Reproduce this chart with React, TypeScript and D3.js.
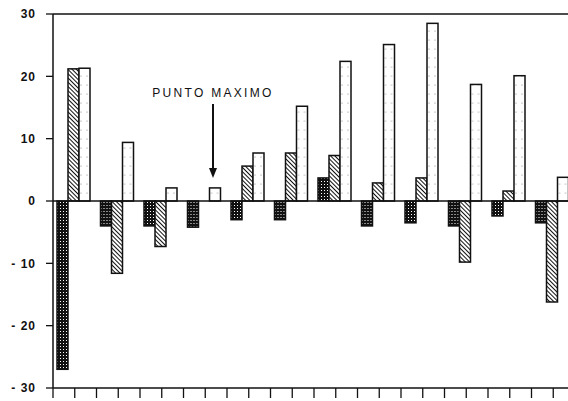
import React from "react";
import * as d3 from "d3";

// chart values
const groups = ["1", "2", "3", "4", "5", "6", "7", "8", "9", "10", "11", "12"];
const seriesDark = [-27, -4, -4, -4.2, -3, -3, 3.7, -4, -3.5, -4, -2.4, -3.5];
const seriesHatch = [21.2, -11.6, -7.3, 0, 5.6, 7.7, 7.3, 2.9, 3.7, -9.8, 1.6, -16.2];
const seriesLight = [21.3, 9.4, 2.1, 2.1, 7.7, 15.2, 22.4, 25.1, 28.5, 18.7, 20.1, 3.8];
const yTicks = [30, 20, 10, 0, -10, -20, -30];
const seriesKeys = ["dark", "hatch", "light"];
const annotation = "PUNTO MAXIMO";

const W = 568;
const H = 401;
const left = 53;
const top = 14;
const bottom = 388;

const y = d3.scaleLinear().domain([-30, 30]).range([bottom, top]);
const x0 = d3.scaleBand().domain(groups).range([left, left + 12 * 43.5]).padding(0);
const x1 = d3.scaleBand().domain(seriesKeys).range([4, 37]).padding(0);
const xt = d3.scaleLinear().domain([0, 12]).range([left, left + 12 * 43.5]);

const fills = { dark: "url(#pDark)", hatch: "url(#pHatch)", light: "url(#pLight)" };
const values = { dark: seriesDark, hatch: seriesHatch, light: seriesLight };

const fmt = (d) => (d < 0 ? "- " + Math.abs(d) : String(d));

export default function App() {
  const font = "'Liberation Sans', Arial, sans-serif";
  return (
    <svg
      width={W}
      height={H}
      style={{ position: "absolute", left: 0, top: 0, background: "#fff" }}
    >
      <defs>
        <pattern id="pDark" width="3" height="3" patternUnits="userSpaceOnUse">
          <rect width="3" height="3" fill="#111" />
          <rect x="1" y="1" width="1" height="1" fill="#fff" />
        </pattern>
        <pattern
          id="pHatch"
          width="3"
          height="3"
          patternUnits="userSpaceOnUse"
          patternTransform="rotate(-45)"
        >
          <rect width="3" height="3" fill="#fff" />
          <line x1="0" y1="0" x2="0" y2="3" stroke="#111" strokeWidth="2" />
        </pattern>
        <pattern id="pLight" width="6" height="9" patternUnits="userSpaceOnUse">
          <rect width="6" height="9" fill="#fff" />
          <circle cx="4" cy="4" r="0.5" fill="#666" />
        </pattern>
      </defs>

      {/* frame */}
      <line x1={left} x2={W} y1={top} y2={top} stroke="#111" strokeWidth={1.5} />
      <line x1={left} x2={left} y1={top} y2={bottom} stroke="#111" strokeWidth={1.5} />
      <line x1={left} x2={W} y1={bottom} y2={bottom} stroke="#111" strokeWidth={1.5} />

      {/* y ticks */}
      {yTicks.map((t) => (
        <g key={t}>
          <line x1={left - 7} x2={left} y1={y(t)} y2={y(t)} stroke="#111" strokeWidth={1.3} />
          <text
            x={36}
            y={y(t)}
            dy="0.36em"
            textAnchor="end"
            fontFamily={font}
            fontWeight="bold"
            fontSize={12}
            letterSpacing={1}
            fill="#111"
          >
            {fmt(t)}
          </text>
        </g>
      ))}

      {/* x ticks */}
      {d3.range(0, 12.5, 0.5).map((t) => (
        <line
          key={t}
          x1={xt(t)}
          x2={xt(t)}
          y1={bottom}
          y2={bottom + 10}
          stroke="#111"
          strokeWidth={1.3}
        />
      ))}

      {/* bars */}
      {groups.map((g, i) => (
        <g key={g} transform={`translate(${x0(g)},0)`}>
          {seriesKeys.map((k) => {
            const v = values[k][i];
            if (v === 0) return null;
            return (
              <rect
                key={k}
                x={x1(k)}
                y={y(Math.max(0, v))}
                width={x1.bandwidth()}
                height={Math.abs(y(v) - y(0))}
                fill={fills[k]}
                stroke="#111"
                strokeWidth={1.5}
              />
            );
          })}
        </g>
      ))}

      {/* zero line */}
      <line x1={left} x2={W} y1={y(0)} y2={y(0)} stroke="#111" strokeWidth={1.6} />

      {/* annotation */}
      <text
        x={213}
        y={97}
        textAnchor="middle"
        fontFamily={font}
        fontSize={12}
        letterSpacing={2.3}
        fill="#111"
      >
        {annotation}
      </text>
      <line x1={213} x2={213} y1={104} y2={170} stroke="#111" strokeWidth={2} />
      <path d="M209,168 L217,168 L213,178 Z" fill="#111" />
    </svg>
  );
}
